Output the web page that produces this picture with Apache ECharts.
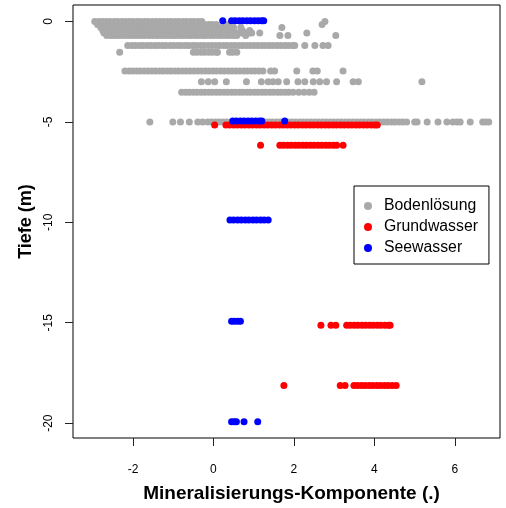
<!DOCTYPE html>
<html>
<head>
<meta charset="utf-8">
<script src="https://cdn.jsdelivr.net/npm/echarts@6/dist/echarts.min.js"></script>
<style>
  html, body { margin: 0; padding: 0; background: #fff; }
  #chart { width: 506px; height: 508px; }
</style>
</head>
<body>
<div id="chart"></div>
<script>
// Tick positions
const xTicks = [-2, 0, 2, 4, 6];
const yTicks = [-20, -15, -10, -5, 0];

// Each row: [depth (m), mineralisation component values at that depth]
const bodenloesung = [
  [0, [-2.95,-2.85,-2.76,-2.66,-2.57,-2.47,-2.38,-2.28,-2.19,-2.09,-2.0,-1.9,-1.81,-1.71,-1.62,-1.52,-1.43,-1.33,-1.24,-1.14,-1.05,-0.95,-0.86,-0.76,-0.67,-0.57,-0.48,-0.38,-0.29,2.77]],
  [-0.15, [-2.88,-2.78,-2.69,-2.59,-2.5,-2.4,-2.31,-2.21,-2.12,-2.02,-1.93,-1.83,-1.74,-1.64,-1.55,-1.45,-1.36,-1.26,-1.17,-1.07,-0.98,-0.88,-0.79,-0.69,-0.6,-0.5,-0.41,-0.31,-0.22,-0.12,-0.03,0.07,0.36,2.7]],
  [-0.3, [-2.8,-2.7,-2.61,-2.51,-2.42,-2.32,-2.23,-2.13,-2.04,-1.94,-1.85,-1.75,-1.66,-1.56,-1.47,-1.37,-1.28,-1.18,-1.09,-0.99,-0.9,-0.8,-0.71,-0.61,-0.52,-0.42,-0.33,-0.23,-0.14,-0.04,0.05,0.15,0.24,0.5,0.68,1.7]],
  [-0.45, [-2.75,-2.65,-2.56,-2.46,-2.37,-2.27,-2.18,-2.08,-1.99,-1.89,-1.8,-1.7,-1.61,-1.51,-1.42,-1.32,-1.23,-1.13,-1.04,-0.94,-0.85,-0.75,-0.66,-0.56,-0.47,-0.37,-0.28,-0.18,-0.09,0.01,0.1,0.2,0.29,0.39,0.48,0.72,0.9]],
  [-0.58, [-2.72,-2.62,-2.53,-2.43,-2.34,-2.24,-2.15,-2.05,-1.96,-1.86,-1.77,-1.67,-1.58,-1.48,-1.39,-1.29,-1.2,-1.1,-1.01,-0.91,-0.82,-0.72,-0.63,-0.53,-0.44,-0.34,-0.25,-0.15,-0.06,0.04,0.13,0.23,0.32,0.42,0.51,0.61,0.7,0.8,0.89,0.95,1.15,2.32]],
  [-0.7, [-2.65,-2.55,-2.46,-2.36,-2.27,-2.17,-2.08,-1.98,-1.89,-1.79,-1.7,-1.6,-1.51,-1.41,-1.32,-1.22,-1.13,-1.03,-0.94,-0.84,-0.75,-0.65,-0.56,-0.46,-0.37,-0.27,-0.18,-0.08,0.01,0.11,0.2,0.3,0.39,0.49,0.58,0.8,1.65,1.85,3.04]],
  [-1.2, [-2.13,-2.03,-1.94,-1.84,-1.75,-1.65,-1.56,-1.46,-1.37,-1.27,-1.18,-1.08,-0.99,-0.89,-0.8,-0.7,-0.61,-0.51,-0.42,-0.32,-0.23,-0.13,-0.04,0.06,0.15,0.25,0.34,0.44,0.53,0.63,0.72,0.82,0.91,1.01,1.1,1.2,1.29,1.39,1.48,1.58,1.67,1.77,1.86,1.96,2.02,2.27,2.52,2.72,2.85]],
  [-1.53, [-2.33,-0.5,-0.41,-0.31,-0.22,-0.12,-0.03,0.07,0.1,0.4,0.48,0.58]],
  [-2.47, [-2.2,-2.1,-2.01,-1.91,-1.82,-1.72,-1.63,-1.53,-1.44,-1.34,-1.25,-1.15,-1.06,-0.96,-0.87,-0.77,-0.68,-0.58,-0.49,-0.39,-0.3,-0.2,-0.11,-0.01,0.08,0.18,0.27,0.37,0.46,0.56,0.65,0.75,0.84,0.94,1.03,1.13,1.23,1.42,1.52,2.07,2.47,2.58,3.22]],
  [-3.0, [-0.3,-0.13,0.03,0.32,0.82,1.19,1.36,1.48,1.61,1.82,2.1,2.27,2.48,2.64,2.81,3.06,3.47,3.6,5.18]],
  [-3.53, [-0.79,-0.69,-0.6,-0.5,-0.41,-0.31,-0.22,-0.12,-0.03,0.07,0.16,0.26,0.35,0.45,0.54,0.64,0.73,0.83,0.92,1.02,1.11,1.21,1.3,1.4,1.49,1.59,1.68,1.78,1.87,1.98,2.12,2.25,2.38,2.5]],
  [-5.0, [-1.58,-1.01,-0.82,-0.6,-0.39,-0.27,-0.14,-0.05,0.05,0.14,0.24,0.33,0.43,0.52,0.62,0.71,0.81,0.9,1.0,1.09,1.19,1.28,1.38,1.47,1.57,1.66,1.76,1.85,1.95,2.04,2.14,2.23,2.33,2.42,2.52,2.61,2.71,2.8,2.9,2.99,3.09,3.18,3.28,3.37,3.47,3.56,3.66,3.75,3.85,3.94,4.04,4.13,4.23,4.32,4.42,4.51,4.61,4.7,4.8,5.0,5.06,5.31,5.58,5.8,5.95,6.05,6.13,6.38,6.69,6.76,6.84]]
];

const grundwasser = [
  [-5.15, [0.03,0.31,0.4,0.5,0.59,0.69,0.78,0.88,0.97,1.07,1.16,1.26,1.35,1.45,1.54,1.64,1.73,1.83,1.92,2.02,2.11,2.21,2.3,2.4,2.49,2.59,2.68,2.78,2.87,2.97,3.06,3.16,3.25,3.35,3.44,3.54,3.63,3.73,3.82,3.92,4.01,4.07]],
  [-6.16, [1.17,1.65,1.74,1.84,1.93,2.03,2.12,2.22,2.31,2.41,2.5,2.6,2.69,2.79,2.88,2.98,3.06,3.22]],
  [-15.13, [2.67,2.92,3.04,3.31,3.4,3.5,3.59,3.69,3.78,3.88,3.97,4.07,4.16,4.26,4.35,4.39]],
  [-18.13, [1.75,3.15,3.27,3.49,3.58,3.68,3.77,3.87,3.96,4.06,4.15,4.25,4.34,4.44,4.54]]
];

const seewasser = [
  [0.03, [0.23,0.45,0.54,0.64,0.73,0.83,0.92,1.02,1.11,1.2,1.25]],
  [-4.96, [0.48,0.57,0.67,0.76,0.86,0.95,1.05,1.14,1.2,1.77]],
  [-9.88, [0.41,0.5,0.6,0.69,0.79,0.88,0.98,1.07,1.17,1.26,1.36]],
  [-14.93, [0.45,0.52,0.6,0.67]],
  [-19.93, [0.45,0.52,0.57,0.76,1.1]]
];

const toPoints = rows => rows.flatMap(([depth, xs]) => xs.map(x => [x, depth]));

const FONT = '"Liberation Sans", Arial, Helvetica, sans-serif';

const chart = echarts.init(document.getElementById('chart'), null, { renderer: 'canvas' });

const scatter = (name, rows, color) => ({
  name,
  type: 'scatter',
  data: toPoints(rows),
  symbol: 'circle',
  symbolSize: 7,
  itemStyle: { color, opacity: 1 },
  emphasis: { disabled: true }
});

chart.setOption({
  animation: false,
  backgroundColor: '#fff',
  textStyle: { fontFamily: FONT },
  grid: {
    left: 73, right: 6, top: 5, bottom: 66,
    show: true, borderColor: '#000', borderWidth: 1, backgroundColor: 'transparent'
  },
  legend: {
    orient: 'vertical',
    left: 354, top: 186,
    padding: [12, 11, 8, 10],
    itemWidth: 22, itemHeight: 8, itemGap: 5,
    icon: 'circle',
    borderColor: '#000', borderWidth: 1,
    backgroundColor: '#fff',
    textStyle: { fontSize: 15.8, color: '#000', fontFamily: FONT },
    data: ['Bodenlösung', 'Grundwasser', 'Seewasser']
  },
  xAxis: {
    type: 'value',
    min: -3.49, max: 7.12,
    splitLine: { show: false },
    axisLine: { show: false, onZero: false },
    axisTick: { show: true, inside: false, length: 8, customValues: xTicks, lineStyle: { color: '#222', width: 1 } },
    axisLabel: { customValues: xTicks, fontSize: 12, color: '#000', margin: 26, fontFamily: FONT },
    name: 'Mineralisierungs-Komponente (.)',
    nameLocation: 'middle',
    nameGap: 46,
    nameTextStyle: { fontSize: 19, fontWeight: 'bold', color: '#000', fontFamily: FONT, padding: [0, 0, 0, 10] }
  },
  yAxis: {
    type: 'value',
    min: -20.74, max: 0.82,
    splitLine: { show: false },
    axisLine: { show: false, onZero: false },
    axisTick: { show: true, inside: false, length: 8, customValues: yTicks, lineStyle: { color: '#222', width: 1 } },
    axisLabel: { customValues: yTicks, rotate: 90, fontSize: 12, color: '#000', margin: 18, fontFamily: FONT },
    name: 'Tiefe (m)',
    nameLocation: 'middle',
    nameGap: 32,
    nameTextStyle: { fontSize: 18, fontWeight: 'bold', color: '#000', fontFamily: FONT }
  },
  series: [
    scatter('Bodenlösung', bodenloesung, '#A9A9A9'),
    scatter('Grundwasser', grundwasser, '#FF0000'),
    scatter('Seewasser', seewasser, '#0000FF')
  ]
});
</script>
</body>
</html>
